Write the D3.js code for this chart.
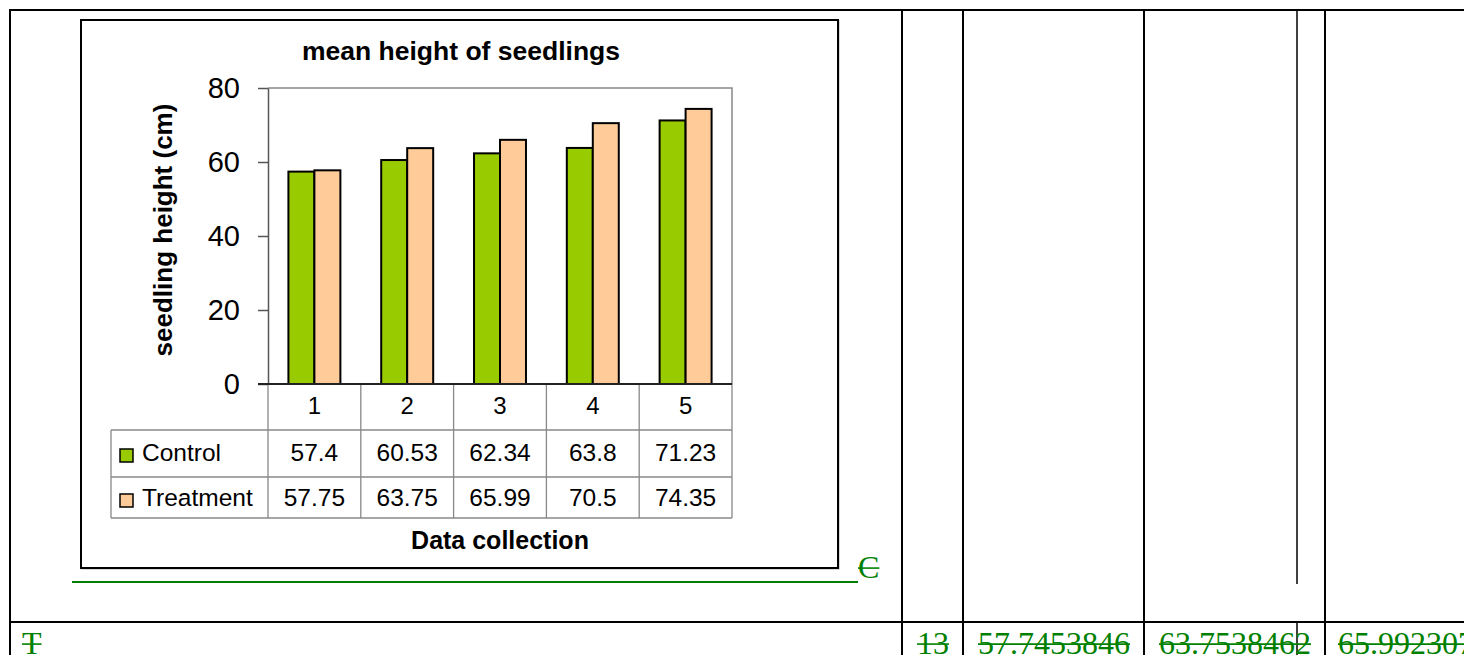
<!DOCTYPE html>
<html>
<head>
<meta charset="utf-8">
<script src="https://cdn.jsdelivr.net/npm/d3@7"></script>
<style>
  html, body { margin: 0; padding: 0; background: #fff; }
  svg { display: block; }
</style>
</head>
<body>
<svg id="page" width="1464" height="655"></svg>
<script>
// Chart data
const categories = ["1", "2", "3", "4", "5"];
const seriesNames = ["Control", "Treatment"];
const controlValues = [57.4, 60.53, 62.34, 63.8, 71.23];
const treatmentValues = [57.75, 63.75, 65.99, 70.5, 74.35];
const controlLabels = ["57.4", "60.53", "62.34", "63.8", "71.23"];
const treatmentLabels = ["57.75", "63.75", "65.99", "70.5", "74.35"];
const yTicks = [0, 20, 40, 60, 80];

// Deleted (tracked-change) cell text in the surrounding document table
const struckRowTexts = ["T", "13", "57.7453846", "63.7538462", "65.9923077"];

const seriesColors = { Control: "#99CC00", Treatment: "#FFCC99" };
const sans = "'Liberation Sans', Arial, sans-serif";
const serif = "'Liberation Serif', 'Times New Roman', serif";
const green = "#008000";

const svg = d3.select("#page");

// ---- surrounding document table ----
const doc = svg.append("g");
function vline(x, y1, y2, w) {
  doc.append("line").attr("x1", x).attr("x2", x).attr("y1", y1).attr("y2", y2)
    .attr("stroke", "#000").attr("stroke-width", w || 2);
}
function hline(y, x1, x2, w) {
  doc.append("line").attr("x1", x1).attr("x2", x2).attr("y1", y).attr("y2", y)
    .attr("stroke", "#000").attr("stroke-width", w || 2);
}
hline(10, 9, 1464);
hline(622, 9, 1464);
vline(10, 9, 655);
[902, 963, 1144, 1325].forEach(x => vline(x, 9, 655));
vline(1297, 9, 584, 1.5);
vline(1297, 622, 655, 1.5);

// struck-through green text with a manually drawn strike line
function struck(text, x, y, size) {
  const t = doc.append("text").attr("x", x).attr("y", y)
    .attr("font-family", serif).attr("font-size", size).attr("fill", green).text(text);
  const w = t.node().getComputedTextLength();
  doc.append("line").attr("x1", x).attr("x2", x + w)
    .attr("y1", y - size * 0.31).attr("y2", y - size * 0.31)
    .attr("stroke", green).attr("stroke-width", 1.6);
  return w;
}
// anchor underline and deleted marker after the chart
doc.append("line").attr("x1", 72).attr("x2", 858).attr("y1", 582).attr("y2", 582)
  .attr("stroke", green).attr("stroke-width", 2);
struck("C", 858, 578, 32);

const rowX = [22, 917, 978, 1159, 1338];
struckRowTexts.forEach((t, i) => struck(t, rowX[i], 654, 32));

// ---- chart ----
const chartBox = { x: 81, y: 20, w: 757, h: 548 };
svg.append("rect").attr("x", chartBox.x + 1).attr("y", chartBox.y + 1)
  .attr("width", chartBox.w).attr("height", chartBox.h)
  .attr("fill", "none").attr("stroke", "#ccc").attr("stroke-width", 1.5);
svg.append("rect").attr("x", chartBox.x).attr("y", chartBox.y)
  .attr("width", chartBox.w).attr("height", chartBox.h)
  .attr("fill", "#fff").attr("stroke", "#000").attr("stroke-width", 2);

const plot = { left: 268, right: 732, top: 88, bottom: 384 };

const x = d3.scaleBand().domain(categories).range([plot.left, plot.right]).padding(0);
const bw = x.bandwidth();
const x1 = d3.scaleBand().domain(seriesNames).range([bw * 0.22, bw * 0.78]).padding(0);
const y = d3.scaleLinear().domain([0, 80]).range([plot.bottom, plot.top]);

const chart = svg.append("g");

// title
chart.append("text").attr("x", 461).attr("y", 60).attr("text-anchor", "middle")
  .attr("font-family", sans).attr("font-weight", "bold").attr("font-size", 26.5)
  .text("mean height of seedlings");

// plot-area frame (top and right)
chart.append("path")
  .attr("d", `M${plot.left},${plot.top}H${plot.right}V${plot.bottom}`)
  .attr("fill", "none").attr("stroke", "#888").attr("stroke-width", 1.5);

// y axis
const yAxis = d3.axisLeft(y).tickValues(yTicks).tickSize(10).tickPadding(18).tickSizeOuter(0);
const yg = chart.append("g").attr("transform", `translate(${plot.left},0)`).call(yAxis);
yg.select(".domain").attr("stroke", "#555").attr("stroke-width", 1.5);
yg.selectAll(".tick line").attr("stroke", "#555").attr("stroke-width", 1.5);
yg.selectAll(".tick text").attr("font-family", sans).attr("font-size", 29).attr("fill", "#000");

// y axis title
chart.append("text")
  .attr("transform", `translate(172,230) rotate(-90)`)
  .attr("text-anchor", "middle")
  .attr("font-family", sans).attr("font-weight", "bold").attr("font-size", 26)
  .text("seedling height (cm)");

// bars
const rows = categories.map((c, i) => ({ cat: c, Control: controlValues[i], Treatment: treatmentValues[i] }));
const groups = chart.selectAll("g.grp").data(rows).join("g").attr("class", "grp")
  .attr("transform", d => `translate(${x(d.cat)},0)`);
groups.selectAll("rect").data(d => seriesNames.map(s => ({ s, v: d[s] }))).join("rect")
  .attr("x", d => x1(d.s))
  .attr("y", d => y(d.v))
  .attr("width", x1.bandwidth())
  .attr("height", d => y(0) - y(d.v))
  .attr("fill", d => seriesColors[d.s])
  .attr("stroke", "#000").attr("stroke-width", 2);

// data table
const tableLeft = 111;
const rowLines = [430, 477, 518];
const grid = chart.append("g").attr("stroke", "#888").attr("stroke-width", 1.3);
rowLines.forEach(yy => grid.append("line").attr("x1", tableLeft).attr("x2", plot.right).attr("y1", yy).attr("y2", yy));
grid.append("line").attr("x1", tableLeft).attr("x2", tableLeft).attr("y1", rowLines[0]).attr("y2", rowLines[2]);
categories.forEach(c => grid.append("line").attr("x1", x(c)).attr("x2", x(c)).attr("y1", plot.bottom).attr("y2", rowLines[2]));
grid.append("line").attr("x1", plot.right).attr("x2", plot.right).attr("y1", plot.bottom).attr("y2", rowLines[2]);

// category axis (header row of the table)
const xAxis = d3.axisBottom(x).tickSize(0).tickPadding(13);
const xg = chart.append("g").attr("transform", `translate(0,${plot.bottom})`).call(xAxis);
xg.select(".domain").remove();
xg.selectAll(".tick text").attr("font-family", sans).attr("font-size", 24).attr("fill", "#000");

// zero line
chart.append("line").attr("x1", plot.left - 10).attr("x2", plot.right)
  .attr("y1", y(0)).attr("y2", y(0)).attr("stroke", "#222").attr("stroke-width", 2);

// table value rows
const tableRows = [
  { name: "Control", labels: controlLabels, base: 461 },
  { name: "Treatment", labels: treatmentLabels, base: 506 }
];
tableRows.forEach(r => {
  chart.append("rect").attr("x", 120).attr("y", r.base - 12).attr("width", 13).attr("height", 13)
    .attr("fill", seriesColors[r.name]).attr("stroke", "#000").attr("stroke-width", 1.5);
  chart.append("text").attr("x", 142).attr("y", r.base)
    .attr("font-family", sans).attr("font-size", 24.5).text(r.name);
  chart.selectAll(null).data(r.labels).join("text")
    .attr("x", (d, i) => x(categories[i]) + bw / 2)
    .attr("y", r.base).attr("text-anchor", "middle")
    .attr("font-family", sans).attr("font-size", 24.5)
    .text(d => d);
});

// x axis title
chart.append("text").attr("x", (plot.left + plot.right) / 2).attr("y", 549)
  .attr("text-anchor", "middle")
  .attr("font-family", sans).attr("font-weight", "bold").attr("font-size", 25)
  .text("Data collection");
</script>
</body>
</html>
